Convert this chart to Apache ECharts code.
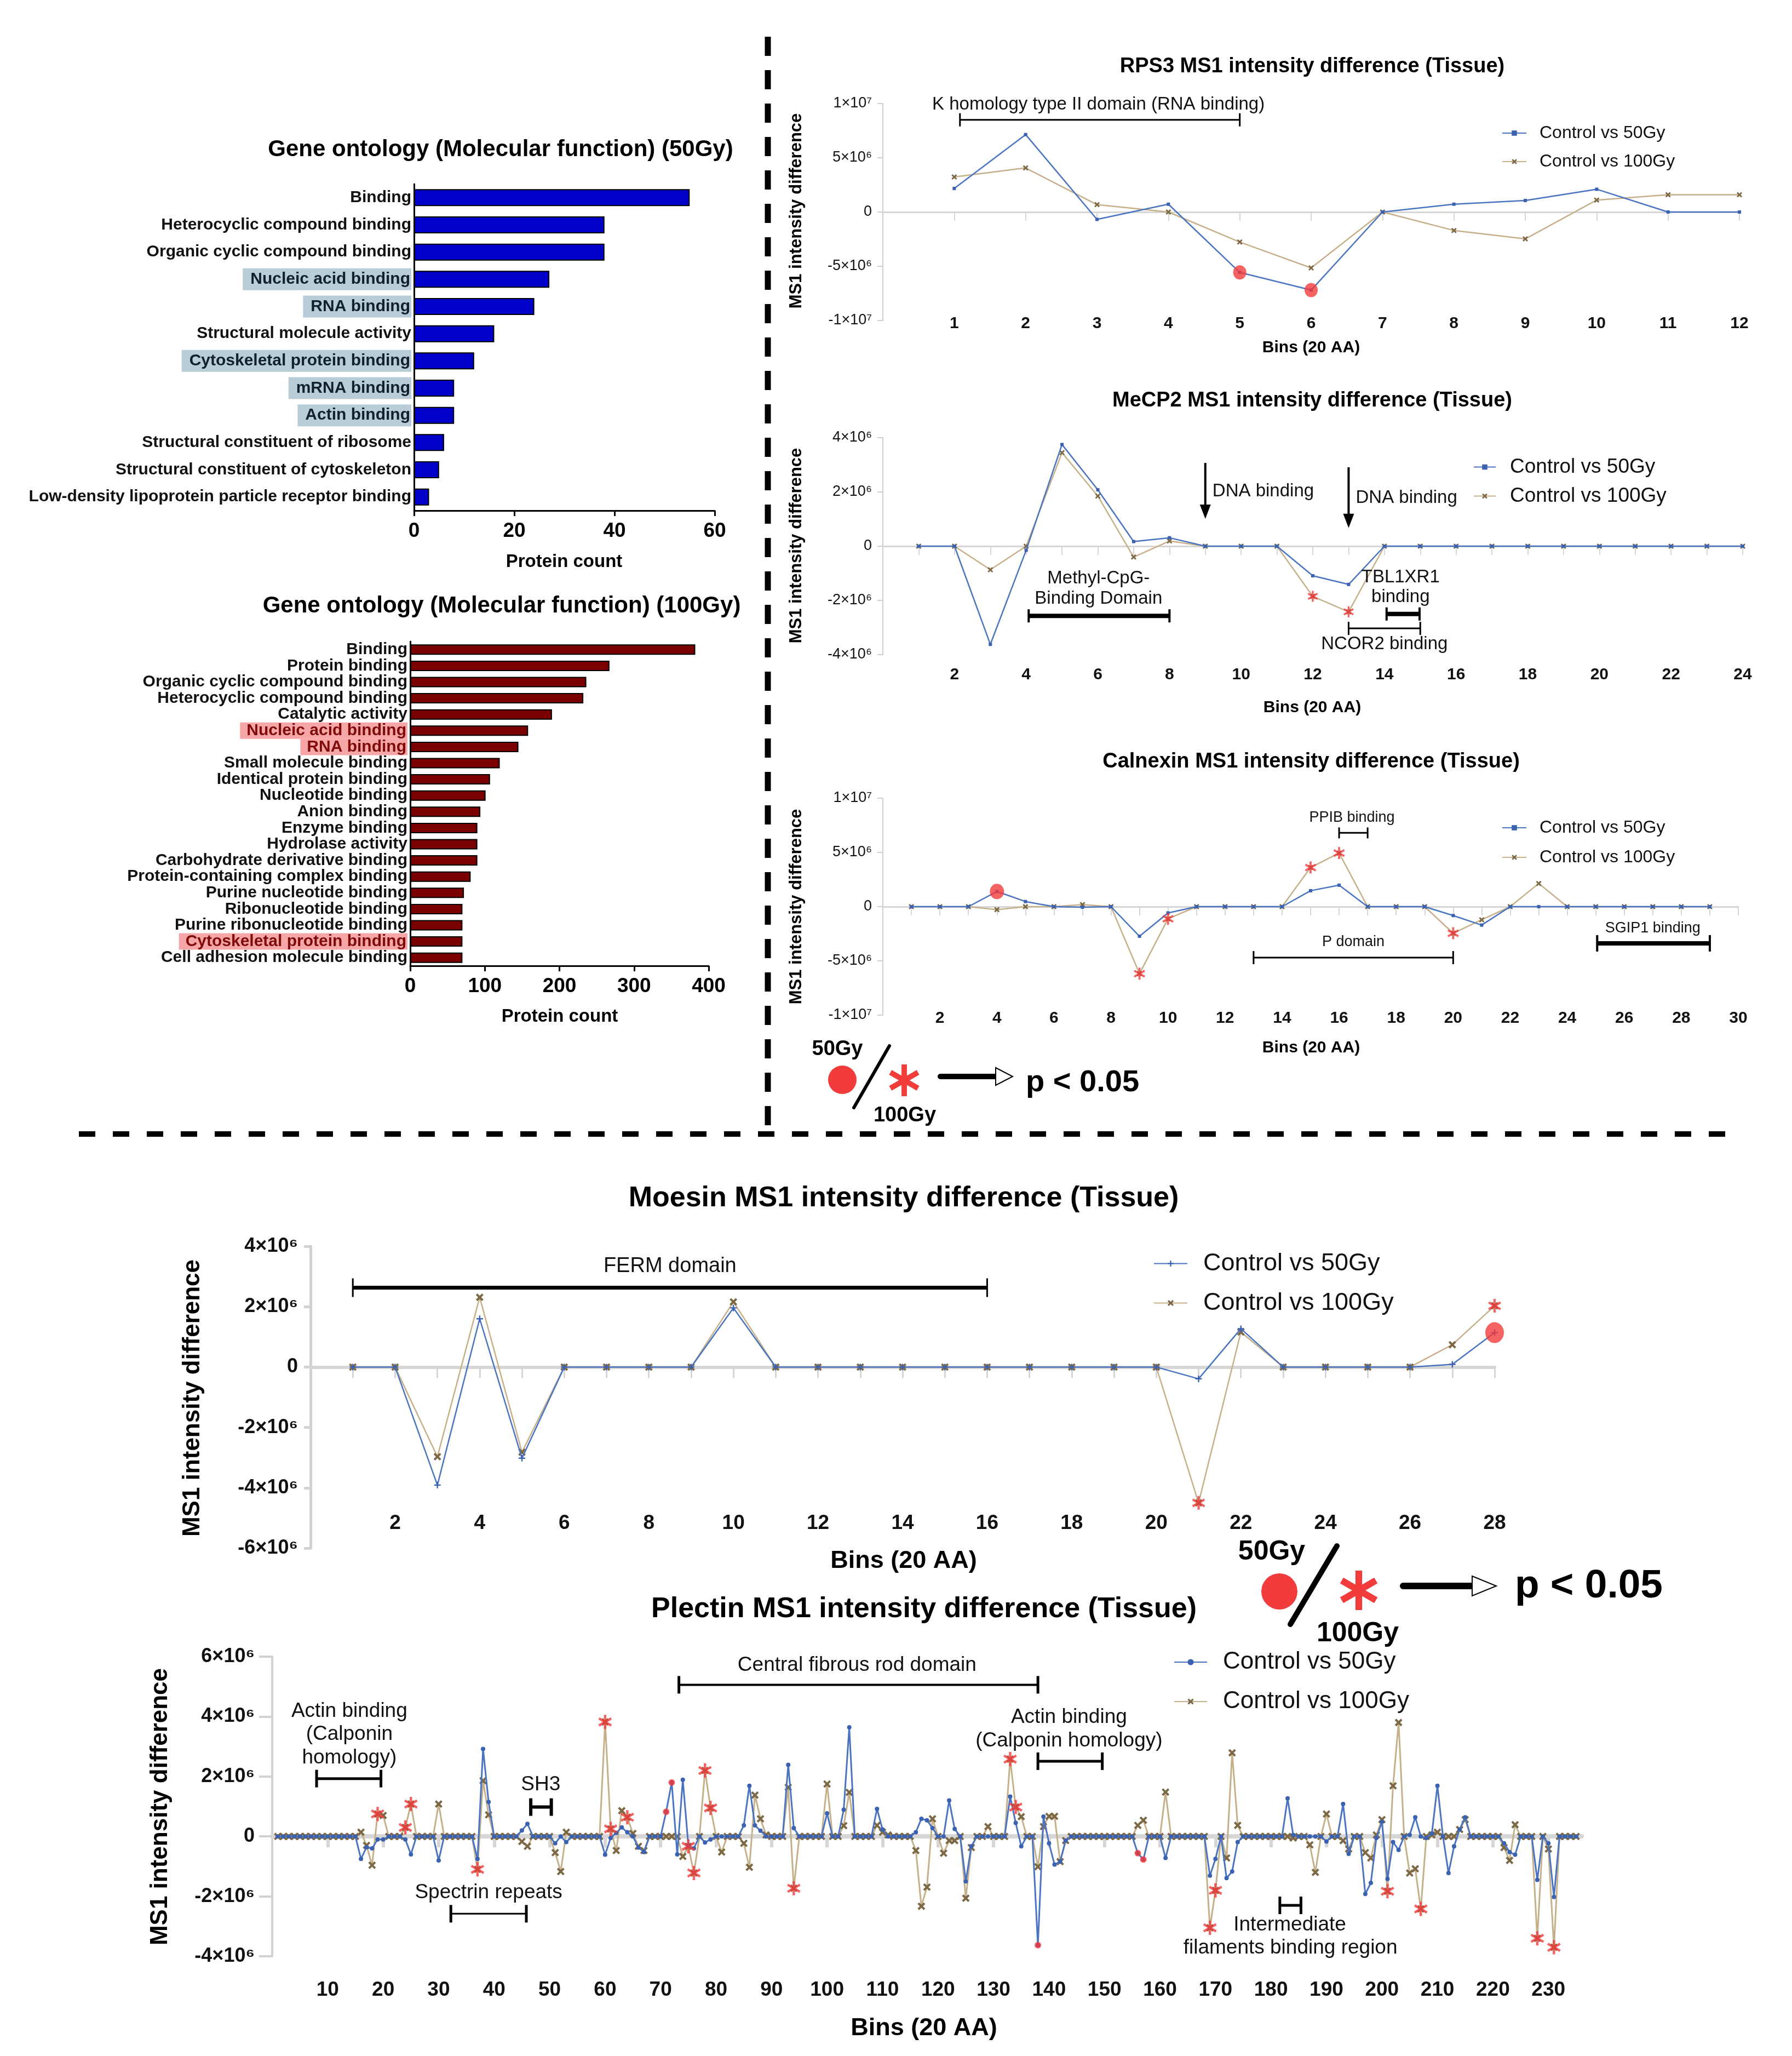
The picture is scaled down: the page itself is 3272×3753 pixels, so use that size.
<!DOCTYPE html>
<html>
<head>
<meta charset="utf-8">
<title>Gene ontology and MS1 intensity differences</title>
<script src="https://cdn.jsdelivr.net/npm/echarts@6.0.0/dist/echarts.min.js"></script>
<style>
html,body{margin:0;padding:0;background:#ffffff;}
#chart{width:3272px;height:3753px;}
</style>
</head>
<body>
<div id="chart"></div>
<script>
// ================= DATA =================
// Gene ontology (50Gy)
const go50Categories = ['Binding','Heterocyclic compound binding','Organic cyclic compound binding','Nucleic acid binding','RNA binding','Structural molecule activity','Cytoskeletal protein binding','mRNA binding','Actin binding','Structural constituent of ribosome','Structural constituent of cytoskeleton','Low-density lipoprotein particle receptor binding'];
const go50Counts = [55,38,38,27,24,16,12,8,8,6,5,3];
const go50Highlighted = ['Nucleic acid binding','RNA binding','Cytoskeletal protein binding','mRNA binding','Actin binding'];
const go50Ticks = [0,20,40,60];

// Gene ontology (100Gy)
const go100Categories = ['Binding','Protein binding','Organic cyclic compound binding','Heterocyclic compound binding','Catalytic activity','Nucleic acid binding','RNA binding','Small molecule binding','Identical protein binding','Nucleotide binding','Anion binding','Enzyme binding','Hydrolase activity','Carbohydrate derivative binding','Protein-containing complex binding','Purine nucleotide binding','Ribonucleotide binding','Purine ribonucleotide binding','Cytoskeletal protein binding','Cell adhesion molecule binding'];
const go100Counts = [382,267,236,232,190,158,145,120,107,101,94,90,90,90,81,72,70,70,70,70];
const go100Highlighted = ['Nucleic acid binding','RNA binding','Cytoskeletal protein binding'];
const go100Ticks = [0,100,200,300,400];

// RPS3 (values in units of 10^6)
const rps3Ctrl50  = [2.17,7.14,-0.68,0.72,-5.57,-7.2,0,0.72,1.06,2.1,0,0];
const rps3Ctrl100 = [3.23,4.06,0.68,0,-2.77,-5.15,0,-1.7,-2.48,1.1,1.59,1.59];
const rps3Sig50 = [5,6];
const rps3Sig100 = [];
const rps3XTicks = [1,2,3,4,5,6,7,8,9,10,11,12];
const rps3XLabels = [1,2,3,4,5,6,7,8,9,10,11,12];
const rps3YTicks = [-10,-5,0,5,10];
const rps3YLabels = ['-1×10⁷','-5×10⁶','0','5×10⁶','1×10⁷'];

// MeCP2
const mecp2Ctrl50  = [0,0,-3.62,-0.15,3.75,2.08,0.17,0.31,0,0,0,-1.09,-1.41,0,0,0,0,0,0,0,0,0,0,0];
const mecp2Ctrl100 = [0,0,-0.87,0,3.45,1.85,-0.4,0.19,0,0,0,-1.85,-2.42,0,0,0,0,0,0,0,0,0,0,0];
const mecp2Sig50 = [];
const mecp2Sig100 = [12,13];
const mecp2XTicks = [1,2,3,4,5,6,7,8,9,10,11,12,13,14,15,16,17,18,19,20,21,22,23,24];
const mecp2XLabels = [2,4,6,8,10,12,14,16,18,20,22,24];
const mecp2YTicks = [-4,-2,0,2,4];
const mecp2YLabels = ['-4×10⁶','-2×10⁶','0','2×10⁶','4×10⁶'];

// Calnexin
const calnexinCtrl50  = [0,0,0,1.4,0.47,0,-0.05,0,-2.73,-0.58,0,0,0,0,1.47,1.98,0,0,0,-0.82,-1.7,0,0,0,0,0,0,0,0];
const calnexinCtrl100 = [0,0,0,-0.28,0,0,0.19,0,-6.18,-1.12,0,0,0,0,3.61,4.94,0,0,0,-2.45,-1.21,0,2.14,0,0,0,0,0,0];
const calnexinSig50 = [4];
const calnexinSig100 = [9,10,15,16,20];
const calnexinXTicks = [1,2,3,4,5,6,7,8,9,10,11,12,13,14,15,16,17,18,19,20,21,22,23,24,25,26,27,28,29,30];
const calnexinXLabels = [2,4,6,8,10,12,14,16,18,20,22,24,26,28,30];
const calnexinYTicks = [-10,-5,0,5,10];
const calnexinYLabels = ['-1×10⁷','-5×10⁶','0','5×10⁶','1×10⁷'];

// Moesin
const moesinCtrl50  = [0,0,-3.91,1.6,-3.02,0,0,0,0,1.96,0,0,0,0,0,0,0,0,0,0,-0.39,1.27,0,0,0,0,0.09,1.14];
const moesinCtrl100 = [0,0,-2.97,2.31,-2.82,0,0,0,0,2.16,0,0,0,0,0,0,0,0,0,0,-4.5,1.16,0,0,0,0,0.74,2.03];
const moesinSig50 = [28];
const moesinSig100 = [21,28];
const moesinXTicks = [1,2,3,4,5,6,7,8,9,10,11,12,13,14,15,16,17,18,19,20,21,22,23,24,25,26,27,28];
const moesinXLabels = [2,4,6,8,10,12,14,16,18,20,22,24,26,28];
const moesinYTicks = [-6,-4,-2,0,2,4];
const moesinYLabels = ['-6×10⁶','-4×10⁶','-2×10⁶','0','2×10⁶','4×10⁶'];

// Plectin (bins 1..235)
const plectinCtrl50 = [
  0,0,0,0,0,0,0,0,0,0,
  0,0,0,0,0,-0.75,-0.36,-0.4,-0.1,-0.1,
  0,0,0,-0.1,-0.6,0,0,0,0,-0.8,
  0,0,0,0,0,0,-0.75,2.92,1.15,0,
  0,0,0,0,0.2,0.42,0,0,0,0,
  -0.23,0,-0.19,0,0,0,0,0,0,-0.61,
  -0.05,0.12,0.3,0.14,0,-0.37,-0.52,0,0,0,
  0.82,1.8,-0.6,1.89,-0.3,-0.4,0,-0.2,-0.1,0,
  0,0,0,0,0.37,1.69,0.37,0.19,0,0,
  0,0,2.39,0.28,0,0,0,0,0,0.77,
  0,0,0.89,3.64,0,0,0,0,0.92,0.23,
  0,0,0,0,0,0.14,0.59,0.54,0.28,0,
  0,1.2,0.25,0,-1.5,-0.33,0,0,0,0,
  0,0,1.33,0.45,-0.33,0,0,-3.63,0.66,-0.23,
  -0.94,-0.84,-0.14,0,0,0,0,0,0,0,
  0,0,0,0,0,-0.56,-0.77,0,0,0,
  -0.72,0,0,0,0,0,0,0,-1.31,-0.75,
  0,-1.39,-1.17,-0.19,0,0,0,0,0,0,
  0,0,1.27,0.05,0,0,0,0,0,-0.17,
  0,0,1.08,-0.58,0,0,-1.92,-1.55,-0.05,0.49,
  -1.42,-0.19,-0.45,0,0.05,0.64,0,-0.05,0.1,1.69,
  0,-1.22,-0.33,0.23,0.64,0,0,0,0,0,
  0,-0.23,-0.52,-0.61,0,0,0,-1.45,0,-0.23,
  -2.02,0,0,0,0
];
const plectinCtrl100 = [
  0,0,0,0,0,0,0,0,0,0,
  0,0,0,0,0,0.14,-0.3,-0.96,0.75,0.7,
  0,0,0,0.3,1.08,0,0,0,0,1.08,
  0,0,0,0,0,0,-1.1,1.86,0.72,0,
  0,0,0,0,-0.17,-0.33,0,0,0,0,
  -0.54,-1.17,0.14,0,0,0,0,0,0,3.82,
  0.25,-0.47,0.86,0.64,0.1,-0.33,-0.47,0,0,0,
  0,0,0,-0.67,-0.33,-1.22,0,2.2,0.95,0,
  -0.52,0,0,0,-0.23,-1.03,1.38,0.59,0.05,0,
  0,0,1.64,-1.73,0,0,0,0,0,1.75,
  0,0,0.36,1.47,0,0,0,0,0.37,0.14,
  0.05,0,0,0,0,-0.47,-2.33,-1.69,0.59,0,
  -0.56,-0.14,-0.14,0,-2.06,-0.37,0,0,0.33,0,
  0,0,2.58,0.98,0.66,0,0,-1.01,0.33,0.67,
  0.67,-0.84,-0.14,0,0,0,0,0,0,0,
  0,0,0,0,0,0.37,0.54,0,0,0,
  1.48,0,0,0,0,0,0,0,-3.05,-1.8,
  0,-0.72,2.79,0.37,0,0,0,0,0,0,
  0,0,0,-0.05,0,0,-0.28,-1.2,0,0.75,
  0,0,-0.14,-0.42,0,0,-0.54,-0.72,0.05,0.56,
  -1.83,1.69,3.8,0,-1.22,-1.08,-2.42,0,0.05,0.14,
  0,0,0,0.23,0.56,0,0,0,0,0,
  0,-0.37,-0.8,0.39,0,0,0,-3.4,0,-0.42,
  -3.7,0,0,0,0
];
const plectinSig50 = [71,72,138,156,157];
const plectinSig100 = [19,24,25,37,60,61,64,75,76,78,79,94,133,134,169,170,201,207,228,231];
const plectinXTicks = [10,20,30,40,50,60,70,80,90,100,110,120,130,140,150,160,170,180,190,200,210,220,230];
const plectinXLabels = [10,20,30,40,50,60,70,80,90,100,110,120,130,140,150,160,170,180,190,200,210,220,230];
const plectinYTicks = [-4,-2,0,2,4,6];
const plectinYLabels = ['-4×10⁶','-2×10⁶','0','2×10⁶','4×10⁶','6×10⁶'];

// ================= ANNOTATIONS (data coordinates) =================
const rps3Notes = [
  {kind:'text', x:3.02, y:9.9, text:'K homology type II domain (RNA binding)', size:33},
  {kind:'bracket', x1:1.08, x2:5, y:8.5, lw:3, cap:12}
];
const mecp2Notes = [
  {kind:'arrow', x:9, y1:3.07, y2:1.01},
  {kind:'text', x:9.2, y:2.02, text:'DNA binding', size:33, align:'left'},
  {kind:'arrow', x:13, y1:2.91, y2:0.67},
  {kind:'text', x:13.2, y:1.77, text:'DNA binding', size:33, align:'left'},
  {kind:'text', x:6.02, y:-1.18, text:'Methyl-CpG-', size:33},
  {kind:'text', x:6.02, y:-1.94, text:'Binding Domain', size:33},
  {kind:'bracket', x1:4.07, x2:8.0, y:-2.57, lw:8, cap:12, cw:4},
  {kind:'text', x:14.45, y:-1.14, text:'TBL1XR1', size:33},
  {kind:'text', x:14.45, y:-1.88, text:'binding', size:33},
  {kind:'bracket', x1:14.06, x2:14.98, y:-2.5, lw:8, cap:12, cw:4},
  {kind:'bracket', x1:13.0, x2:15.0, y:-3.03, lw:3, cap:12, cw:3},
  {kind:'text', x:14.0, y:-3.62, text:'NCOR2 binding', size:33}
];
const calnexinNotes = [
  {kind:'text', x:16.45, y:8.2, text:'PPIB binding', size:27},
  {kind:'bracket', x1:16, x2:17, y:6.8, lw:3, cap:10},
  {kind:'text', x:16.5, y:-3.26, text:'P domain', size:27},
  {kind:'bracket', x1:13, x2:20, y:-4.7, lw:3, cap:12},
  {kind:'text', x:27, y:-1.98, text:'SGIP1 binding', size:27},
  {kind:'bracket', x1:25.05, x2:29, y:-3.38, lw:8, cap:15, cw:4}
];
const moesinNotes = [
  {kind:'text', x:8.5, y:3.34, text:'FERM domain', size:38},
  {kind:'bracket', x1:1, x2:16, y:2.63, lw:7, cap:17, cw:3}
];
const plectinNotes = [
  {kind:'text', x:13.9, y:4.17, text:'Actin binding', size:37},
  {kind:'text', x:13.9, y:3.40, text:'(Calponin', size:37},
  {kind:'text', x:13.9, y:2.62, text:'homology)', size:37},
  {kind:'bracket', x1:8, x2:19.6, y:1.93, lw:5, cap:16, cw:5},
  {kind:'text', x:48.4, y:1.73, text:'SH3', size:37},
  {kind:'bracket', x1:46.6, x2:50.3, y:0.98, lw:6, cap:16, cw:6},
  {kind:'text', x:39.0, y:-1.87, text:'Spectrin repeats', size:37},
  {kind:'bracket', x1:32.2, x2:45.8, y:-2.58, lw:3, cap:16, cw:5},
  {kind:'text', x:105.4, y:5.72, text:'Central fibrous rod domain', size:37},
  {kind:'bracket', x1:73.3, x2:138, y:5.06, lw:4, cap:16, cw:5},
  {kind:'text', x:143.6, y:3.98, text:'Actin binding', size:37},
  {kind:'text', x:143.6, y:3.19, text:'(Calponin homology)', size:37},
  {kind:'bracket', x1:138, x2:149.6, y:2.51, lw:5, cap:16, cw:5},
  {kind:'bracket', x1:181.6, x2:185.4, y:-2.3, lw:5, cap:16, cw:5},
  {kind:'text', x:183.4, y:-2.95, text:'Intermediate', size:37},
  {kind:'text', x:183.5, y:-3.73, text:'filaments binding region', size:37}
];

// ================= RENDERING =================
const F = "'Liberation Sans', Arial, Helvetica, sans-serif";
const BLUE_LINE = '#4a74c2', BLUE_MARK = '#3b62b0', TAN_LINE = '#c6b08a', TAN_MARK = '#7c6844', SIG_RED = '#f23b3b';
const X_SYM = 'path://M0,2L2,0L5,3L8,0L10,2L7,5L10,8L8,10L5,7L2,10L0,8L3,5Z';
const PLUS_SYM = 'path://M4,0L6,0L6,4L10,4L10,6L6,6L6,10L4,10L4,6L0,6L0,4L4,4Z';

function asteriskPts(cx, cy, R, ratio) {
  const hw = R * ratio, pts = [];
  for (let k = 0; k < 6; k++) {
    const a = -Math.PI / 2 + k * Math.PI / 3;
    const dx = Math.cos(a), dy = Math.sin(a), px = -dy, py = dx;
    pts.push([cx + R * dx - hw * px, cy + R * dy - hw * py]);
    pts.push([cx + R * dx + hw * px, cy + R * dy + hw * py]);
    const b = a + Math.PI / 6, d = 2 * hw;
    pts.push([cx + d * Math.cos(b), cy + d * Math.sin(b)]);
  }
  return pts;
}
const AST_SYM = 'path://' + asteriskPts(50, 50, 50, 0.17).map((p, i) => (i ? 'L' : 'M') + p[0].toFixed(2) + ',' + p[1].toFixed(2)).join('') + 'Z';

function fmtTick(ticks, labels) {
  return v => { const i = ticks.findIndex(t => Math.abs(t - v) < 1e-6); return i < 0 ? '' : labels[i]; };
}
function pairs(arr) { return arr.map((v, i) => [i + 1, v]); }

const grids = [], xAxes = [], yAxes = [], series = [], legends = [];

function noteSeries(notes, xi, yi) {
  return {
    type: 'custom', xAxisIndex: xi, yAxisIndex: yi, silent: true, clip: false, z: 4,
    data: notes.map(n => [n.x !== undefined ? n.x : n.x1, n.y !== undefined ? n.y : n.y1]),
    renderItem: (params, api) => {
      const n = notes[params.dataIndex];
      if (n.kind === 'text') {
        const p = api.coord([n.x, n.y]);
        return {type: 'text', x: p[0], y: p[1], style: {text: n.text, fill: '#111', fontSize: n.size, fontFamily: F,
          align: n.align || 'center', verticalAlign: 'middle', textAlign: n.align || 'center', textVerticalAlign: 'middle'}};
      }
      if (n.kind === 'bracket') {
        const a = api.coord([n.x1, n.y]), b = api.coord([n.x2, n.y]);
        const c = n.cap, cw = n.cw || n.lw;
        return {type: 'group', children: [
          {type: 'line', shape: {x1: a[0], y1: a[1], x2: b[0], y2: b[1]}, style: {stroke: '#000', lineWidth: n.lw}},
          {type: 'line', shape: {x1: a[0], y1: a[1] - c, x2: a[0], y2: a[1] + c}, style: {stroke: '#000', lineWidth: cw}},
          {type: 'line', shape: {x1: b[0], y1: b[1] - c, x2: b[0], y2: b[1] + c}, style: {stroke: '#000', lineWidth: cw}}
        ]};
      }
      if (n.kind === 'arrow') {
        const a = api.coord([n.x, n.y1]), b = api.coord([n.x, n.y2]);
        const hh = 26, hw = 10;
        return {type: 'group', children: [
          {type: 'line', shape: {x1: a[0], y1: a[1], x2: b[0], y2: b[1] - hh + 2}, style: {stroke: '#000', lineWidth: 4}},
          {type: 'polygon', shape: {points: [[b[0] - hw, b[1] - hh], [b[0] + hw, b[1] - hh], [b[0], b[1]]]}, style: {fill: '#000'}}
        ]};
      }
      return null;
    }
  };
}

// ---------- GO bar charts ----------
function goChart(gi, rect, cats, counts, hl, ticks, barColor, barW, hlBg, hlColor, hlPad) {
  grids.push(Object.assign({outerBoundsMode: 'none', containLabel: false}, rect));
  xAxes.push({gridIndex: gi, type: 'value', min: ticks[0], max: ticks[ticks.length - 1], interval: ticks[1] - ticks[0],
    axisLine: {show: true, lineStyle: {color: '#000', width: 3}},
    axisTick: {show: true, length: 10, lineStyle: {color: '#000', width: 3}},
    axisLabel: {fontSize: 37, fontWeight: 'bold', color: '#000', margin: 19, fontFamily: F},
    splitLine: {show: false}});
  yAxes.push({gridIndex: gi, type: 'category', inverse: true, data: cats,
    axisLine: {show: true, lineStyle: {color: '#000', width: 3}}, axisTick: {show: false},
    axisLabel: {interval: 0, hideOverlap: false, margin: 5, fontSize: 30, fontWeight: 'bold', color: '#111', fontFamily: F,
      formatter: v => hl.includes(v) ? '{h|' + v + '}' : v,
      rich: {h: {backgroundColor: hlBg, padding: hlPad, fontSize: 30, fontWeight: 'bold', color: hlColor, fontFamily: F}}},
    splitLine: {show: false}});
  series.push({type: 'bar', xAxisIndex: xAxes.length - 1, yAxisIndex: yAxes.length - 1, data: counts, barWidth: barW,
    itemStyle: {color: barColor, borderColor: '#000', borderWidth: 2}, silent: true});
}
goChart(0, {left: 756, top: 336, width: 549, height: 596}, go50Categories, go50Counts, go50Highlighted, go50Ticks, '#0000c8', 31, '#b8cdd8', '#10202c', [5, 2, 5, 14]);
goChart(1, {left: 749, top: 1171, width: 545, height: 592}, go100Categories, go100Counts, go100Highlighted, go100Ticks, '#7a0000', 19, '#f6a6a6', '#7f0a0a', [0, 2, 0, 12]);

// ---------- line charts ----------
function lineChart(c) {
  const gi = grids.length;
  grids.push({left: c.rect.left, top: c.rect.top, width: c.rect.width, height: c.rect.height, outerBoundsMode: 'none', containLabel: false});
  const xi = xAxes.length;
  xAxes.push({gridIndex: gi, type: 'value', min: 0, max: c.maxX, position: 'bottom',
    axisLine: {show: true, onZero: true, lineStyle: {color: c.zeroColor, width: c.zeroWidth}},
    axisTick: {show: true, customValues: c.tickBins, length: c.tickLen, lineStyle: {color: c.zeroColor, width: c.tickWidth}},
    axisLabel: {show: false}, splitLine: {show: false}});
  xAxes.push({gridIndex: gi, type: 'value', min: 0, max: c.maxX, position: 'bottom', offset: c.labOffset,
    axisLine: {show: false, onZero: false}, axisTick: {show: false},
    axisLabel: {show: true, customValues: c.xLabels, margin: c.labMargin, fontSize: c.xFont, fontWeight: 'bold', color: '#111', fontFamily: F},
    splitLine: {show: false}});
  const yi = yAxes.length;
  const yt = c.yTicks;
  yAxes.push({gridIndex: gi, type: 'value', min: yt[0], max: yt[yt.length - 1], interval: yt[1] - yt[0],
    axisLine: {show: true, onZero: false, lineStyle: {color: c.yAxisColor, width: c.yAxisWidth}},
    axisTick: {show: true, length: c.yTickLen, lineStyle: {color: c.yAxisColor, width: c.yAxisWidth}},
    axisLabel: {formatter: fmtTick(yt, c.yLabels), margin: c.yMargin, fontSize: c.yFont, fontWeight: c.yBold ? 'bold' : 'normal', color: '#111', fontFamily: F},
    splitLine: {show: false}});
  const n50 = 'Control vs 50Gy#' + c.key, n100 = 'Control vs 100Gy#' + c.key;
  series.push({type: 'line', name: n100, xAxisIndex: xi, yAxisIndex: yi, data: pairs(c.d100),
    symbol: c.sym100, symbolSize: c.size100, symbolKeepAspect: true, showSymbol: true,
    lineStyle: {color: TAN_LINE, width: c.lw}, itemStyle: {color: TAN_MARK}, emphasis: {disabled: true}, z: 2, silent: true});
  series.push({type: 'line', name: n50, xAxisIndex: xi, yAxisIndex: yi, data: pairs(c.d50),
    symbol: c.sym50, symbolSize: c.size50, symbolKeepAspect: true, showSymbol: true,
    lineStyle: {color: BLUE_LINE, width: c.lw}, itemStyle: {color: BLUE_MARK}, emphasis: {disabled: true}, z: 3, silent: true});
  if (c.sig50.length) series.push({type: 'scatter', xAxisIndex: xi, yAxisIndex: yi, silent: true, z: 10,
    data: c.sig50.map(b => [b, c.d50[b - 1]]), symbol: 'circle', symbolSize: c.dotSize, itemStyle: {color: SIG_RED}});
  if (c.sig100.length) series.push({type: 'scatter', xAxisIndex: xi, yAxisIndex: yi, silent: true, z: 10,
    data: c.sig100.map(b => [b, c.d100[b - 1]]), symbol: AST_SYM, symbolKeepAspect: true, symbolSize: c.astSize, itemStyle: {color: SIG_RED}});
  series.push(noteSeries(c.notes, xi, yi));
  legends.push({data: [n50, n100], orient: 'vertical', left: c.leg.left, top: c.leg.top, padding: 0,
    itemWidth: c.leg.itemWidth, itemHeight: c.leg.itemHeight, itemGap: c.leg.gap, selectedMode: false,
    formatter: name => name.split('#')[0],
    textStyle: {fontSize: c.leg.font, lineHeight: c.leg.font, fontFamily: F, color: '#111', padding: [0, 0, 0, c.leg.textPad]}});
}

const topStyle = {zeroColor: '#d6d6d6', zeroWidth: 3, tickLen: 16, tickWidth: 2, xFont: 30, yAxisColor: '#cfcfcf', yAxisWidth: 2,
  yTickLen: 10, yMargin: 20, yFont: 27, yBold: false, lw: 2.5, sym50: 'rect', size50: 6, sym100: X_SYM, size100: 10};

lineChart(Object.assign({}, topStyle, {key: 'rps3', rect: {left: 1612, top: 189, width: 1564, height: 396}, maxX: 12,
  tickBins: rps3XTicks, xLabels: rps3XLabels, labOffset: -9, labMargin: 0,
  yTicks: rps3YTicks, yLabels: rps3YLabels, d50: rps3Ctrl50, d100: rps3Ctrl100, sig50: rps3Sig50, sig100: rps3Sig100,
  dotSize: [24, 26], astSize: 20, notes: rps3Notes,
  leg: {left: 2742, top: 227, itemWidth: 44, itemHeight: 12, gap: 20, font: 32, textPad: 19}}));

lineChart(Object.assign({}, topStyle, {key: 'mecp2', rect: {left: 1612, top: 799, width: 1570, height: 396}, maxX: 24,
  tickBins: mecp2XTicks, xLabels: mecp2XLabels, labOffset: 0, labMargin: 22,
  yTicks: mecp2YTicks, yLabels: mecp2YLabels, d50: mecp2Ctrl50, d100: mecp2Ctrl100, sig50: mecp2Sig50, sig100: mecp2Sig100,
  dotSize: [24, 26], astSize: 20, notes: mecp2Notes,
  leg: {left: 2690, top: 834, itemWidth: 40, itemHeight: 12, gap: 16, font: 37, textPad: 21}}));

lineChart(Object.assign({}, topStyle, {key: 'calnexin', rect: {left: 1612, top: 1457, width: 1562, height: 396}, maxX: 30,
  tickBins: calnexinXTicks, xLabels: calnexinXLabels, labOffset: -9, labMargin: 0,
  yTicks: calnexinYTicks, yLabels: calnexinYLabels, d50: calnexinCtrl50, d100: calnexinCtrl100, sig50: calnexinSig50, sig100: calnexinSig100,
  dotSize: [26, 28], astSize: 22, notes: calnexinNotes,
  leg: {left: 2742, top: 1495, itemWidth: 44, itemHeight: 12, gap: 22, font: 32, textPad: 19}}));

lineChart({key: 'moesin', rect: {left: 567, top: 2275, width: 2162, height: 551}, maxX: 28,
  zeroColor: '#d6d6d6', zeroWidth: 6, tickLen: 20, tickWidth: 3, xFont: 37, yAxisColor: '#d2d2d2', yAxisWidth: 5,
  yTickLen: 12, yMargin: 23, yFont: 36, yBold: true, lw: 2.5, sym50: PLUS_SYM, size50: 12, sym100: X_SYM, size100: 14,
  tickBins: moesinXTicks, xLabels: moesinXLabels, labOffset: -64, labMargin: 0,
  yTicks: moesinYTicks, yLabels: moesinYLabels, d50: moesinCtrl50, d100: moesinCtrl100, sig50: moesinSig50, sig100: moesinSig100,
  dotSize: [34, 38], astSize: 25, notes: moesinNotes,
  leg: {left: 2106, top: 2284, itemWidth: 61, itemHeight: 14, gap: 27, font: 45, textPad: 24}});

lineChart({key: 'plectin', rect: {left: 497, top: 3024, width: 2391, height: 547}, maxX: 236,
  zeroColor: '#d6d6d6', zeroWidth: 8, tickLen: 20, tickWidth: 6, xFont: 37, yAxisColor: '#d2d2d2', yAxisWidth: 4,
  yTickLen: 24, yMargin: 32, yFont: 36, yBold: true, lw: 3, sym50: 'circle', size50: 8, sym100: X_SYM, size100: 14,
  tickBins: plectinXTicks, xLabels: plectinXLabels, labOffset: 0, labMargin: 43,
  yTicks: plectinYTicks, yLabels: plectinYLabels, d50: plectinCtrl50, d100: plectinCtrl100, sig50: plectinSig50, sig100: plectinSig100,
  dotSize: [12, 12], astSize: 26, notes: plectinNotes,
  leg: {left: 2143, top: 3012, itemWidth: 60, itemHeight: 14, gap: 28, font: 44, textPad: 24}});

// ---------- free text & decorations ----------
function txt(x, y, text, size, bold, opts) {
  opts = opts || {};
  return {type: 'text', x: x, y: y, rotation: opts.rot || 0, z: 20, silent: true,
    style: {text: text, fontSize: size, fontWeight: bold ? 'bold' : 'normal', fontFamily: F, fill: opts.fill || '#000',
      align: opts.align || 'center', verticalAlign: 'middle', textAlign: opts.align || 'center', textVerticalAlign: 'middle'}};
}
function pLegend(s) {
  return [
    txt(s.t50[0], s.t50[1], '50Gy', s.small, true),
    {type: 'circle', shape: {cx: s.dot[0], cy: s.dot[1], r: s.dotR}, style: {fill: SIG_RED}, z: 20, silent: true},
    {type: 'line', shape: {x1: s.slash[0], y1: s.slash[1], x2: s.slash[2], y2: s.slash[3]}, style: {stroke: '#000', lineWidth: s.slashW, lineCap: 'round'}, z: 20, silent: true},
    {type: 'polygon', shape: {points: asteriskPts(s.ast[0], s.ast[1], s.astR, 0.17)}, style: {fill: SIG_RED}, z: 20, silent: true},
    {type: 'line', shape: {x1: s.arrow[0], y1: s.arrow[2], x2: s.arrow[1], y2: s.arrow[2]}, style: {stroke: '#000', lineWidth: s.arrowW, lineCap: 'round'}, z: 20, silent: true},
    {type: 'polygon', shape: {points: [[s.arrow[1], s.arrow[2] - s.headH], [s.arrow[1] + s.headL, s.arrow[2]], [s.arrow[1], s.arrow[2] + s.headH]]}, style: {fill: '#fff', stroke: '#000', lineWidth: 2}, z: 21, silent: true},
    txt(s.p[0], s.p[1], 'p < 0.05', s.big, true, {align: 'left'}),
    txt(s.t100[0], s.t100[1], '100Gy', s.small, true)
  ];
}

const graphics = [
  {type: 'line', shape: {x1: 1402, y1: 67, x2: 1402, y2: 2062}, style: {stroke: '#000', lineWidth: 11, lineDash: [35, 26]}, silent: true},
  {type: 'line', shape: {x1: 144, y1: 2070, x2: 3164, y2: 2070}, style: {stroke: '#000', lineWidth: 10, lineDash: [30, 32]}, silent: true},
  txt(914, 273, 'Gene ontology (Molecular function) (50Gy)', 42, true),
  txt(1030, 1026, 'Protein count', 33, true),
  txt(916, 1106, 'Gene ontology (Molecular function) (100Gy)', 42, true),
  txt(1022, 1856, 'Protein count', 33, true),
  txt(2396, 122, 'RPS3 MS1 intensity difference (Tissue)', 38, true),
  txt(2394, 635, 'Bins (20 AA)', 30, true),
  txt(1454, 385, 'MS1 intensity difference', 31, true, {rot: Math.PI / 2}),
  txt(2396, 732, 'MeCP2 MS1 intensity difference (Tissue)', 38, true),
  txt(2396, 1292, 'Bins (20 AA)', 30, true),
  txt(1454, 996, 'MS1 intensity difference', 31, true, {rot: Math.PI / 2}),
  txt(2394, 1391, 'Calnexin MS1 intensity difference (Tissue)', 38, true),
  txt(2394, 1913, 'Bins (20 AA)', 30, true),
  txt(1454, 1655, 'MS1 intensity difference', 31, true, {rot: Math.PI / 2}),
  txt(1650, 2188, 'Moesin MS1 intensity difference (Tissue)', 52, true),
  txt(1650, 2850, 'Bins (20 AA)', 45, true),
  txt(352, 2552, 'MS1 intensity difference', 44, true, {rot: Math.PI / 2}),
  txt(1687, 2938, 'Plectin MS1 intensity difference (Tissue)', 52, true),
  txt(1687, 3703, 'Bins (20 AA)', 45, true),
  txt(293, 3298, 'MS1 intensity difference', 44, true, {rot: Math.PI / 2})
].concat(pLegend({t50: [1529, 1916], t100: [1652, 2037], small: 38, dot: [1538, 1971], dotR: 26,
  slash: [1624, 1909, 1559, 2022], slashW: 6, ast: [1651, 1972], astR: 29,
  arrow: [1717, 1818, 1965], arrowW: 10, headH: 16, headL: 31, p: [1873, 1977], big: 56}))
 .concat(pLegend({t50: [2322, 2833], t100: [2479, 2982], small: 50, dot: [2336, 2905], dotR: 33,
  slash: [2441, 2822, 2356, 2965], slashW: 10, ast: [2481, 2903], astR: 36,
  arrow: [2562, 2688, 2895], arrowW: 12, headH: 18, headL: 44, p: [2766, 2896], big: 73}));

const chart = echarts.init(document.getElementById('chart'), null, {renderer: 'canvas', width: 3272, height: 3753});
chart.setOption({
  animation: false,
  backgroundColor: '#ffffff',
  textStyle: {fontFamily: F},
  grid: grids,
  xAxis: xAxes,
  yAxis: yAxes,
  legend: legends,
  series: series,
  graphic: {elements: graphics}
});
</script>
</body>
</html>
